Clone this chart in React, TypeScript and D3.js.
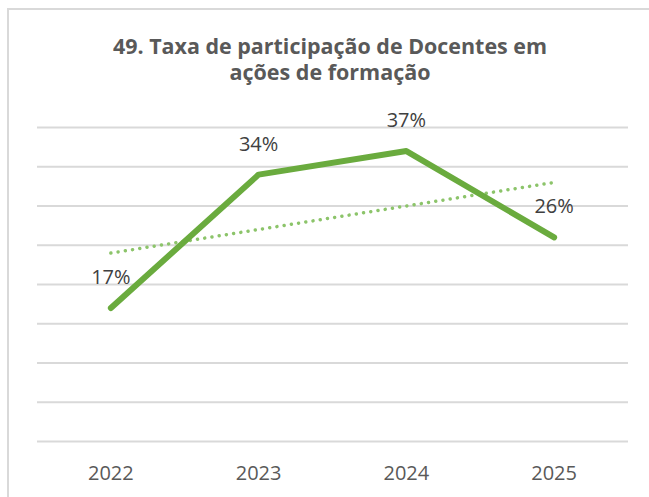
import * as d3 from "d3";
import { useMemo } from "react";

const years = ["2022", "2023", "2024", "2025"];
const taxa = [17, 34, 37, 26];
const yTicks = [0, 5, 10, 15, 20, 25, 30, 35, 40];
const titleLines = ["49. Taxa de participação de Docentes em", "ações de formação"];

const W = 649;
const H = 497;
const FONT = "'Open Sans', 'Noto Sans', sans-serif";

export default function App() {
  const x = d3.scaleBand().domain(years).range([37, 628]);
  const y = d3.scaleLinear().domain([0, 40]).range([441.5, 127.5]);
  const cx = (d: string) => (x(d) ?? 0) + x.bandwidth() / 2;

  const pts = years.map((d, i) => ({ year: d, v: taxa[i] }));

  const line = d3
    .line<{ year: string; v: number }>()
    .x((d) => cx(d.year))
    .y((d) => y(d.v));

  // linear trend (least squares), like Excel's trendline
  const trend = useMemo(() => {
    const xs = taxa.map((_, i) => i + 1);
    const mx = d3.mean(xs)!;
    const my = d3.mean(taxa)!;
    const slope =
      d3.sum(xs, (xi, i) => (xi - mx) * (taxa[i] - my)) /
      d3.sum(xs, (xi) => (xi - mx) ** 2);
    const b = my - slope * mx;
    return years.map((d, i) => ({ year: d, v: b + slope * (i + 1) }));
  }, []);

  return (
    <svg
      width={W}
      height={H}
      style={{ position: "absolute", left: 0, top: 0, background: "#fff" }}
    >
      <rect x={8} y={9} width={700} height={600} fill="#fff" stroke="#d9d9d9" strokeWidth={2} />

      {titleLines.map((t, i) => (
        <text
          key={i}
          x={330}
          y={54 + i * 26}
          textAnchor="middle"
          fontFamily={FONT}
          fontWeight={700}
          fontSize={21.5}
          fill="#595959"
          textLength={i === 0 ? 434 : undefined}
          lengthAdjust="spacingAndGlyphs"
        >
          {t}
        </text>
      ))}

      {yTicks.map((t) => (
        <line key={t} x1={37} x2={628} y1={y(t)} y2={y(t)} stroke="#d9d9d9" strokeWidth={2} />
      ))}

      <path
        d={line(trend) ?? ""}
        fill="none"
        stroke="#8cc46a"
        strokeWidth={3.5}
        strokeLinecap="round"
        strokeDasharray="0.01 7.3"
      />

      <path
        d={line(pts) ?? ""}
        fill="none"
        stroke="#6aab3e"
        strokeWidth={6}
        strokeLinecap="round"
        strokeLinejoin="round"
      />

      {pts.map((d) => (
        <text
          key={d.year}
          x={cx(d.year)}
          y={y(d.v) - 24}
          textAnchor="middle"
          fontFamily={FONT}
          fontSize={20}
          fill="#404040"
        >
          {d.v}%
        </text>
      ))}

      {years.map((d) => (
        <text
          key={d}
          x={cx(d)}
          y={480}
          textAnchor="middle"
          fontFamily={FONT}
          fontSize={20}
          fill="#595959"
        >
          {d}
        </text>
      ))}
    </svg>
  );
}
